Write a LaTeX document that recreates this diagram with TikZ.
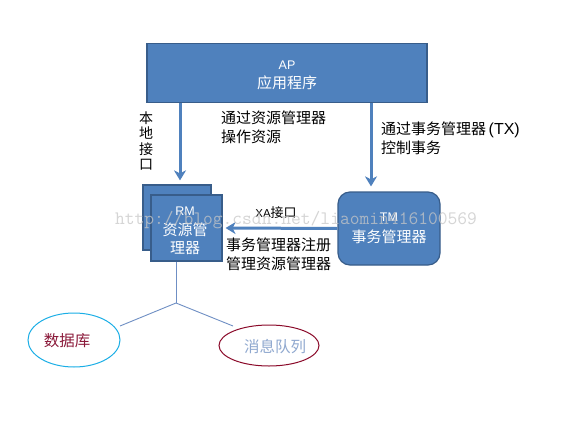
\documentclass[tikz,border=0pt]{standalone}
\usepackage{fontspec}
\setmainfont{Noto Sans CJK SC}
\newfontfamily\latinf{Liberation Sans}
\usetikzlibrary{arrows.meta,shapes.geometric}
\definecolor{boxblue}{HTML}{4F81BD}
\definecolor{boxedge}{HTML}{385D8A}
\definecolor{branchc}{HTML}{6F8FC4}
\definecolor{dbedge}{HTML}{1AAEE6}
\definecolor{dbtext}{HTML}{8B1A3A}
\definecolor{mqedge}{HTML}{8B0A2A}
\definecolor{mqtext}{HTML}{8FA8CF}
\tikzset{
  bluebox/.style={draw=boxedge, line width=1.2pt, fill=boxblue, inner sep=0pt},
  boxlat/.style={text=white, inner sep=0pt, font=\latinf\fontsize{12.5}{14}\selectfont},
  boxcjk/.style={text=white, inner sep=0pt, font=\fontsize{15}{17}\selectfont},
  arr/.style={draw=boxblue, line width=3pt, -{Stealth[length=10pt,width=12pt,inset=3pt]}},
  branch/.style={draw=branchc, line width=0.9pt},
  lbl/.style={font=\fontsize{15}{19}\selectfont, align=left, inner sep=0pt, text=black},
}
\begin{document}
\begin{tikzpicture}[x=1pt,y=-1pt]
\useasboundingbox[fill=white] (0,0) rectangle (572,420);

% AP box
\node[bluebox, minimum width=280pt, minimum height=59pt] (ap) at (287,73) {};
\node[boxlat] (apt1) at (287,65) {AP};
\node[boxcjk] (apt2) at (287,83) {应用程序};

% RM boxes
\node[bluebox, minimum width=68pt, minimum height=65pt] (rmback) at (177,217.5) {};
\node[bluebox, minimum width=71pt, minimum height=66pt] (rm) at (186.5,228) {};
\node[boxlat] (rmt1) at (185,211) {RM};
\node[boxcjk] (rmt2) at (185,230) {资源管};
\node[boxcjk] (rmt3) at (185,248) {理器};

% TM box
\node[bluebox, rounded corners=12pt, minimum width=102pt, minimum height=73pt] (tm) at (389,228.5) {};
\node[boxlat] (tmt1) at (389,217) {TM};
\node[boxcjk] (tmt2) at (389,237) {事务管理器};

% arrows
\coordinate (lx) at (180,0);
\coordinate (rx) at (371,0);
\draw[arr] (ap.south -| lx) -- ([yshift=4pt]rmback.north -| lx);
\draw[arr] (ap.south -| rx) -- ([yshift=5pt]tm.north -| rx);
\draw[arr] (tm.west) -- ([xshift=3pt]rm.east);

% labels
\node[lbl, align=center, font=\fontsize{14}{15.5}\selectfont] (l1) at (146,141) {本\\地\\接\\口};
\node[lbl, anchor=north west] (l2) at (221,111) {通过资源管理器\\操作资源};
\node[lbl, anchor=north west] (l3) at (381,122) {通过事务管理器\,\latinf\fontsize{16}{19}\selectfont(TX)\\控制事务};
\node[lbl, font=\fontsize{13}{15}\selectfont] (l4) at (276,213) {\latinf\fontsize{11.5}{13}\selectfont XA\fontsize{13}{15}\selectfont\rmfamily 接口};
\node[lbl, anchor=north west] (l5) at (226,238) {事务管理器注册\\管理资源管理器};

% ellipses
\node[draw=dbedge, line width=1pt, ellipse, minimum width=92pt, minimum height=54pt, inner sep=0pt] (db) at (74,340) {};
\node[text=dbtext, font=\fontsize{15.5}{17}\selectfont, inner sep=0pt] (dbt) at (67,341) {数据库};
\node[draw=mqedge, line width=1pt, ellipse, minimum width=100pt, minimum height=41pt, inner sep=0pt] (mq) at (269,345.5) {};
\node[text=mqtext, font=\fontsize{15.5}{17}\selectfont, inner sep=0pt] (mqt) at (275,347) {消息队列};

% branch lines
\coordinate (j) at (176,303);
\coordinate (le) at (120,326);
\coordinate (re) at (233,326);
\draw[branch] (j |- rm.south) -- (j);
\draw[branch] (le) -- (j) -- (re);

% watermark
\node[text=black!22, opacity=0.75, font=\ttfamily\fontsize{19}{20}\selectfont, inner sep=0pt] (wm) at (296,220)
  {http://blog.csdn.net/liaomin416100569};
\end{tikzpicture}
\end{document}
